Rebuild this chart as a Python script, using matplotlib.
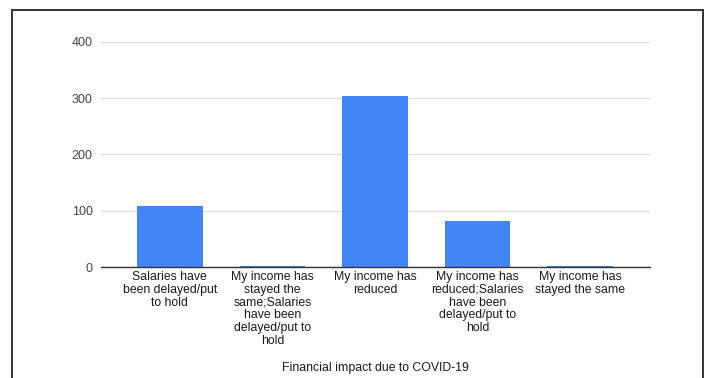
import matplotlib.pyplot as plt
from matplotlib.patches import Rectangle

# --- data ---
categories = [
    "Salaries have\nbeen delayed/put\nto hold",
    "My income has\nstayed the\nsame;Salaries\nhave been\ndelayed/put to\nhold",
    "My income has\nreduced",
    "My income has\nreduced;Salaries\nhave been\ndelayed/put to\nhold",
    "My income has\nstayed the same",
]
counts = [108, 2, 304, 82, 2]
y_ticks = [0, 100, 200, 300, 400]

plt.rcParams['font.family'] = ['Liberation Sans', 'DejaVu Sans']

fig = plt.figure(figsize=(7.13, 3.78), dpi=100)
ax = fig.add_axes([101 / 713, 111 / 378, 549 / 713, 225.3 / 378])

x = range(len(categories))
ax.bar(x, counts, width=0.64, color='#4285f4', zorder=3)

ax.set_ylim(0, 400)
ax.set_xlim(-0.67, 4.68)
ax.set_yticks(y_ticks)
ax.set_yticklabels([str(v) for v in y_ticks], fontsize=9, color='#444444')
ax.set_xticks(list(x))
ax.set_xticklabels(categories, fontsize=8.8, color='#1a1a1a', linespacing=1.08)
ax.tick_params(axis='both', length=0)
ax.tick_params(axis='y', pad=6)
ax.tick_params(axis='x', pad=3)

ax.grid(axis='y', color='#e0e0e0', linewidth=1.0, zorder=0)
for s in ['top', 'right', 'left']:
    ax.spines[s].set_visible(False)
ax.spines['bottom'].set_color('#333333')
ax.spines['bottom'].set_linewidth(1.0)
ax.spines['bottom'].set_zorder(4)

ax.set_xlabel("Financial impact due to COVID-19", fontsize=8.8,
              color='#1a1a1a', labelpad=11)

# dark frame around the chart area (open at the bottom)
frame = Rectangle((12 / 713, -0.1), (703 - 12) / 713, (378 - 10) / 378 + 0.1,
                  transform=fig.transFigure, fill=False,
                  edgecolor='#333333', linewidth=1.4, clip_on=False)
fig.patches.append(frame)

fig.savefig("out.png", dpi=100, facecolor='white')
